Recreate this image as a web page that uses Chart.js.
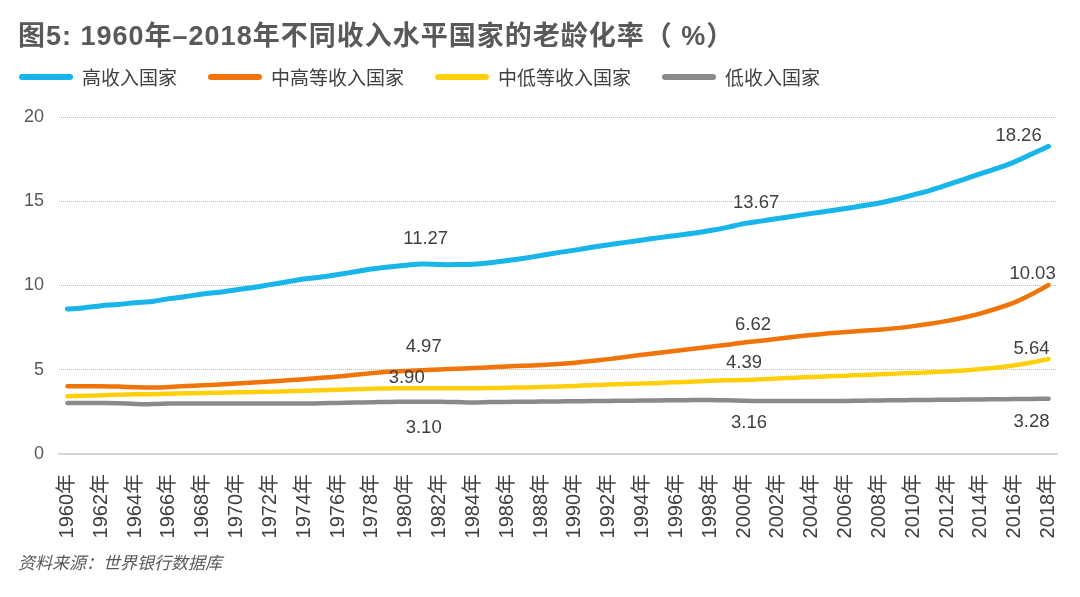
<!DOCTYPE html>
<html lang="zh">
<head>
<meta charset="utf-8">
<title>老龄化率</title>
<script src="https://cdn.jsdelivr.net/npm/chart.js@4.4.0/dist/chart.umd.min.js"></script>
<style>
  body { margin: 0; background: #fff; font-family: "Liberation Sans", "Noto Sans CJK SC", sans-serif; }
  #wrap { position: relative; width: 1080px; height: 597px; overflow: hidden; }
  #title { position: absolute; left: 18px; top: 14px; font-size: 27px; font-weight: bold; color: #595959; white-space: nowrap; letter-spacing: 1px; }
  #legend { position: absolute; left: 19px; top: 63px; display: flex; align-items: center; font-size: 19px; color: #404040; }
  #legend .item { display: flex; align-items: center; margin-right: 31px; }
  #legend .swatch { width: 54px; height: 6px; border-radius: 3px; margin-right: 9px; }
  #source { position: absolute; left: 18px; top: 549px; font-size: 17px; font-style: italic; color: #595959; }
  #chartBox { position: absolute; left: 0; top: 0; width: 1080px; height: 597px; }
</style>
</head>
<body>
<div id="wrap">
  <div id="chartBox"><canvas id="agingChart"></canvas></div>
  <div id="title">图5: 1960年–2018年不同收入水平国家的老龄化率（ %）</div>
  <div id="legend"></div>
  <div id="source">资料来源：世界银行数据库</div>
</div>
<script>
// Years 1960-2018
const years = [
  1960, 1961, 1962, 1963, 1964, 1965, 1966, 1967, 1968, 1969,
  1970, 1971, 1972, 1973, 1974, 1975, 1976, 1977, 1978, 1979,
  1980, 1981, 1982, 1983, 1984, 1985, 1986, 1987, 1988, 1989,
  1990, 1991, 1992, 1993, 1994, 1995, 1996, 1997, 1998, 1999,
  2000, 2001, 2002, 2003, 2004, 2005, 2006, 2007, 2008, 2009,
  2010, 2011, 2012, 2013, 2014, 2015, 2016, 2017, 2018
];

const seriesNames = ['高收入国家', '中高等收入国家', '中低等收入国家', '低收入国家'];

const highIncome = [
  8.60, 8.68, 8.80, 8.87, 8.98, 9.05, 9.22, 9.35, 9.50, 9.60,
  9.75, 9.88, 10.05, 10.22, 10.38, 10.50, 10.65, 10.82, 10.98, 11.10,
  11.20, 11.27, 11.24, 11.24, 11.26, 11.35, 11.48, 11.62, 11.78, 11.95,
  12.10, 12.27, 12.42, 12.56, 12.70, 12.84, 12.97, 13.10, 13.26, 13.45,
  13.67, 13.82, 13.98, 14.13, 14.28, 14.42, 14.57, 14.73, 14.90, 15.12,
  15.38, 15.65, 15.97, 16.30, 16.64, 16.96, 17.34, 17.80, 18.26
];

const upperMiddle = [
  4.02, 4.02, 4.02, 4.00, 3.96, 3.94, 3.98, 4.03, 4.08, 4.12,
  4.18, 4.24, 4.30, 4.37, 4.44, 4.52, 4.60, 4.70, 4.80, 4.88,
  4.93, 4.97, 5.02, 5.06, 5.10, 5.15, 5.20, 5.24, 5.28, 5.34,
  5.42, 5.52, 5.63, 5.76, 5.89, 6.01, 6.13, 6.25, 6.36, 6.48,
  6.62, 6.72, 6.84, 6.96, 7.06, 7.16, 7.24, 7.31, 7.38, 7.47,
  7.59, 7.73, 7.90, 8.10, 8.35, 8.65, 9.00, 9.48, 10.03
];

const lowerMiddle = [
  3.42, 3.45, 3.48, 3.52, 3.54, 3.55, 3.58, 3.60, 3.62, 3.64,
  3.66, 3.68, 3.70, 3.72, 3.75, 3.78, 3.81, 3.84, 3.87, 3.89,
  3.90, 3.90, 3.90, 3.90, 3.90, 3.91, 3.93, 3.95, 3.98, 4.01,
  4.04, 4.08, 4.12, 4.16, 4.19, 4.22, 4.26, 4.30, 4.34, 4.37,
  4.39, 4.43, 4.48, 4.53, 4.57, 4.61, 4.65, 4.69, 4.73, 4.77,
  4.81, 4.85, 4.90, 4.96, 5.04, 5.14, 5.27, 5.43, 5.64
];

const lowIncome = [
  3.02, 3.02, 3.02, 3.01, 2.97, 2.96, 2.99, 3.00, 3.00, 3.00,
  3.00, 3.00, 3.00, 3.00, 3.00, 3.01, 3.03, 3.05, 3.07, 3.09,
  3.10, 3.10, 3.10, 3.08, 3.05, 3.08, 3.09, 3.10, 3.11, 3.12,
  3.13, 3.14, 3.15, 3.16, 3.17, 3.18, 3.19, 3.20, 3.20, 3.19,
  3.16, 3.14, 3.14, 3.14, 3.14, 3.14, 3.15, 3.16, 3.18, 3.19,
  3.20, 3.21, 3.22, 3.23, 3.24, 3.25, 3.26, 3.27, 3.28
];

// years whose values get a text label
const labelYears = [1981, 2000, 2018];

const yTicks = [0, 5, 10, 15, 20];

const colors = ['#17b5ea', '#f07408', '#ffd00a', '#8a8a8a'];
const widths = [5, 4.5, 4.5, 4.5];
// label offsets (px) per series, one per labelYears entry
const labelOffsets = [
  [[3, -25], [12, -21], [-30, -10]],
  [[1, -23], [9, -18], [-16, -11]],
  [[-16, -10], [0, -17], [-17, -10]],
  [[1, 26], [5, 22], [-17, 23]]
];

const allSeries = [highIncome, upperMiddle, lowerMiddle, lowIncome];

// Build legend
function buildLegend() {
  const box = document.getElementById('legend');
  seriesNames.forEach((name, i) => {
    const item = document.createElement('div');
    item.className = 'item';
    const sw = document.createElement('span');
    sw.className = 'swatch';
    sw.style.background = colors[i];
    const txt = document.createElement('span');
    txt.textContent = name;
    item.appendChild(sw);
    item.appendChild(txt);
    box.appendChild(item);
  });
}

// Value labels at chosen years
const valueLabels = {
  id: 'valueLabels',
  afterDatasetsDraw(chart) {
    const ctx = chart.ctx;
    ctx.save();
    ctx.font = '18.5px "Liberation Sans", sans-serif';
    ctx.fillStyle = '#404040';
    ctx.textAlign = 'center';
    ctx.textBaseline = 'middle';
    chart.data.datasets.forEach((ds, i) => {
      const meta = chart.getDatasetMeta(i);
      labelYears.forEach((yr, j) => {
        const idx = years.indexOf(yr);
        const pt = meta.data[idx];
        if (!pt) return;
        const off = labelOffsets[i][j];
        ctx.fillText(ds.data[idx].toFixed(2), pt.x + off[0], pt.y + off[1]);
      });
    });
    ctx.restore();
  }
};

let agingChart;

function initChart() {
  const ctx = document.getElementById('agingChart');
  agingChart = new Chart(ctx, {
    type: 'line',
    data: {
      labels: years.map(y => y + '年'),
      datasets: allSeries.map((data, i) => ({
        label: seriesNames[i],
        data: data,
        borderColor: colors[i],
        backgroundColor: colors[i],
        borderWidth: widths[i],
        pointRadius: 0,
        tension: 0.3,
        borderCapStyle: 'round'
      }))
    },
    options: {
      responsive: true,
      maintainAspectRatio: false,
      animation: false,
      layout: { padding: { left: 9, right: 23, top: 117, bottom: 53 } },
      plugins: {
        legend: { display: false },
        tooltip: { enabled: false }
      },
      scales: {
        x: {
          offset: true,
          grid: { display: false, drawTicks: false },
          border: { display: true, color: '#d6d6d6', width: 2 },
          afterFit: (scale) => { scale.height = 90; scale.paddingRight = 0; scale.paddingLeft = 0; },
          ticks: {
            autoSkip: false,
            minRotation: 90,
            maxRotation: 90,
            padding: 20,
            color: '#404040',
            font: { size: 20, family: '"Liberation Sans", "Noto Sans CJK SC", sans-serif' },
            callback: function (value, index) {
              return index % 2 === 0 ? this.getLabelForValue(value) : null;
            }
          }
        },
        y: {
          min: yTicks[0],
          max: yTicks[yTicks.length - 1],
          afterFit: (scale) => { scale.width = 50; },
          afterBuildTicks: (scale) => { scale.ticks = yTicks.map(v => ({ value: v })); },
          grid: {
            drawTicks: false,
            color: (c) => c.tick && c.tick.value === 0 ? 'rgba(0,0,0,0)' : '#bcbcbc',
            lineWidth: 1
          },
          border: { display: false, dash: [1, 1] },
          ticks: {
            padding: 15,
            color: '#595959',
            font: { size: 18, family: '"Liberation Sans", sans-serif' }
          }
        }
      }
    },
    plugins: [valueLabels]
  });
}

document.addEventListener('DOMContentLoaded', () => {
  buildLegend();
  initChart();
});
</script>
</body>
</html>
